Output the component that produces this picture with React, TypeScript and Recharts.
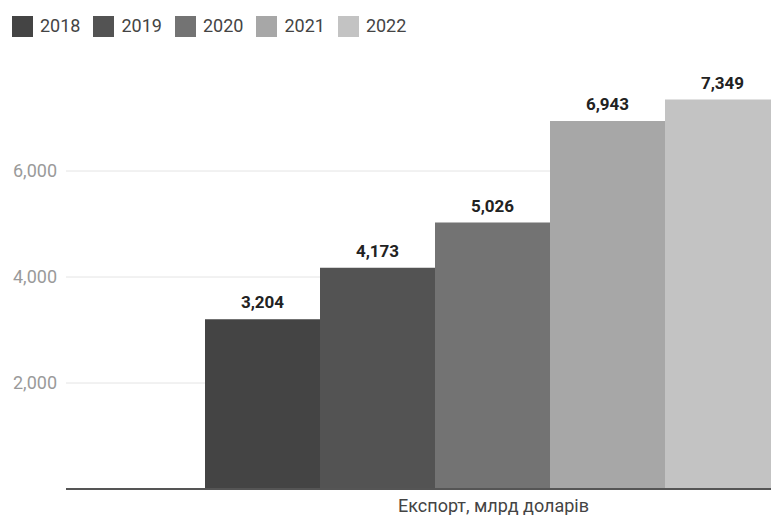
import { Bar, BarChart, CartesianGrid, LabelList, XAxis, YAxis } from 'recharts';

const categories = ['Експорт, млрд доларів'];
const years = ['2018', '2019', '2020', '2021', '2022'];
const exportValues = [3204, 4173, 5026, 6943, 7349];
const yTicks = [2000, 4000, 6000];
const colors = ['#444444', '#535353', '#737373', '#a7a7a7', '#c3c3c3'];

const rows = categories.map((name) => {
  const row: Record<string, string | number> = { name };
  years.forEach((y, i) => {
    row[y] = exportValues[i];
  });
  return row;
});

const fmt = (v: number) => v.toLocaleString('en-US');

export default function App() {
  return (
    <div
      style={{
        position: 'fixed',
        top: 0,
        left: 0,
        width: 771,
        height: 515,
        overflow: 'hidden',
        background: '#fff',
        fontFamily: 'Roboto, sans-serif',
      }}
    >
      <div style={{ position: 'absolute', top: 15, left: 12, display: 'flex', zIndex: 1 }}>
        {years.map((y, i) => (
          <div key={y} style={{ display: 'flex', alignItems: 'center', marginRight: 13 }}>
            <span style={{ width: 21, height: 21, background: colors[i], display: 'inline-block' }} />
            <span style={{ marginLeft: 7, fontSize: 18, color: '#444', lineHeight: '22px' }}>{y}</span>
          </div>
        ))}
      </div>
      <BarChart
        width={940}
        height={515}
        data={rows}
        margin={{ top: 65, right: 19, bottom: 0, left: 0 }}
        barCategoryGap={139}
        barGap={0}
      >
        <CartesianGrid vertical={false} stroke="#e4e4e4" horizontalValues={yTicks} />
        <XAxis
          dataKey="name"
          height={26}
          tickLine={false}
          tickMargin={4}
          axisLine={{ stroke: '#555', strokeWidth: 2 }}
          tick={{ fill: '#444', fontSize: 18, fontFamily: 'Roboto' }}
        />
        <YAxis
          width={66}
          domain={[0, 8000]}
          ticks={yTicks}
          tickFormatter={fmt}
          axisLine={false}
          tickLine={false}
          tickMargin={3}
          tick={{ fill: '#9a9a9a', fontSize: 18, fontFamily: 'Roboto' }}
        />
        {years.map((y, i) => (
          <Bar key={y} dataKey={y} fill={colors[i]} isAnimationActive={false}>
            <LabelList
              dataKey={y}
              position="top"
              offset={11}
              formatter={(v: any) => fmt(Number(v))}
              style={{ fill: '#222', fontSize: 17, fontWeight: 700, fontFamily: 'Roboto' }}
            />
          </Bar>
        ))}
      </BarChart>
    </div>
  );
}
